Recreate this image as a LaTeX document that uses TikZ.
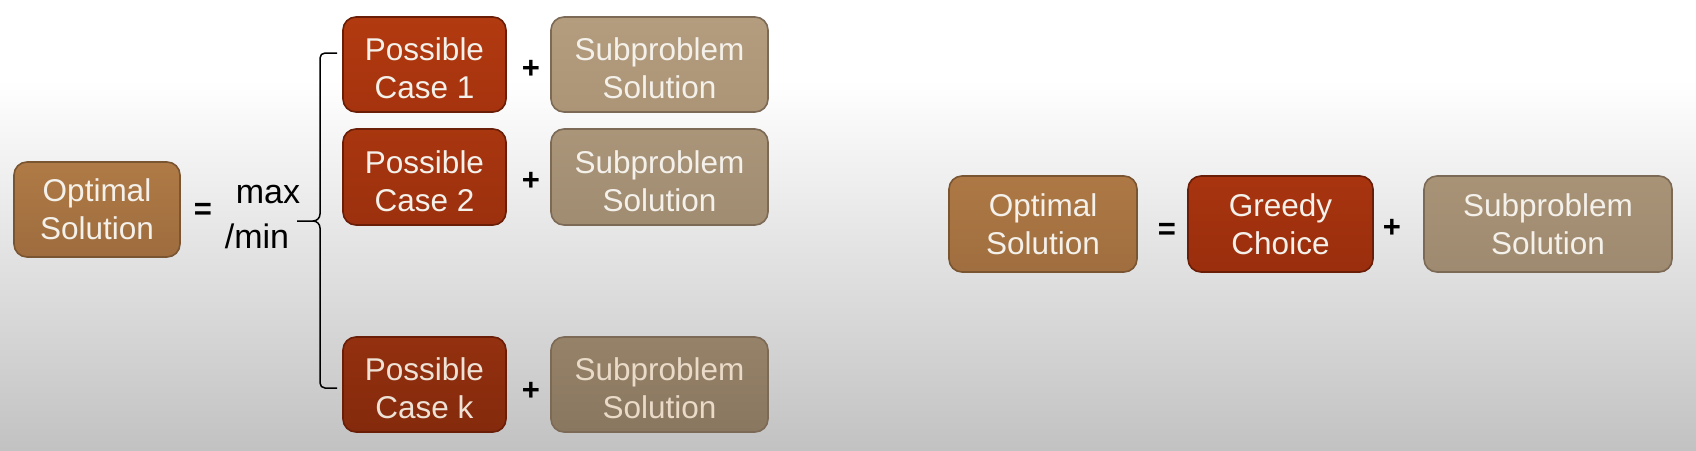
\documentclass[tikz,border=0pt]{standalone}
\usepackage{fontspec}
\setmainfont{Liberation Sans}
\definecolor{opttop}{HTML}{AF7A45}
\definecolor{optbot}{HTML}{9E6C3E}
\definecolor{opt2top}{HTML}{AD7844}
\definecolor{opt2bot}{HTML}{A06E3F}
\definecolor{optborder}{HTML}{7A5532}
\definecolor{caseborder}{HTML}{6A1E08}
\definecolor{subborder}{HTML}{7C6A56}
\definecolor{case1top}{HTML}{B23A10}
\definecolor{case1bot}{HTML}{A5330E}
\definecolor{case2top}{HTML}{A8360F}
\definecolor{case2bot}{HTML}{9C300E}
\definecolor{casektop}{HTML}{93300F}
\definecolor{casekbot}{HTML}{842A0C}
\definecolor{grtop}{HTML}{A8340F}
\definecolor{grbot}{HTML}{9A2E0D}
\definecolor{s1top}{HTML}{B49D7F}
\definecolor{s1bot}{HTML}{AC9576}
\definecolor{s2top}{HTML}{AA9579}
\definecolor{s2bot}{HTML}{A08C71}
\definecolor{sktop}{HTML}{958268}
\definecolor{skbot}{HTML}{8A7760}
\definecolor{s3top}{HTML}{A99377}
\definecolor{s3bot}{HTML}{9E8A70}
\definecolor{bggray}{HTML}{C2C2C2}
\definecolor{boxtext}{HTML}{F4F0EA}
\newcommand\tstr{\rule{0pt}{31pt}}
\begin{document}
\begin{tikzpicture}[x=1pt,y=-1pt,
  box/.style={draw, line width=1.6pt, rounded corners=13pt, inner sep=0pt, align=center,
    font=\fontsize{31.5}{38}\selectfont, text=boxtext},
  optbox/.style={box, top color=opttop, bottom color=optbot, draw=optborder},
  casebox/.style={box, draw=caseborder},
  subbox/.style={box, draw=subborder},
  sym/.style={inner sep=0pt, font=\fontsize{31}{37}\selectfont\bfseries, text=black},
  mm/.style={inner sep=0pt, font=\fontsize{34}{40}\selectfont, text=black},
  brace/.style={line width=1.5pt, black, line join=round}
]
\useasboundingbox (0,0) rectangle (1696,450);
\fill[white] (0,0) rectangle (1696,82);
\shade[top color=white, bottom color=bggray] (0,80) rectangle (1696,450);

% left equation
\node[optbox, minimum width=166pt, minimum height=95pt] (opt) at (97,209.5) {Optimal\\Solution};
\node[sym] (eq) at (203,211) {=};
\node[mm] (mx) at (268,195) {max};
\node[mm] (mn) at (257,236) {/min};

\node[casebox, top color=case1top, bottom color=case1bot, minimum width=163pt, minimum height=95pt] (c1) at (424.5,64.5) {\tstr Possible\\Case 1};
\node[casebox, top color=case2top, bottom color=case2bot, minimum width=163pt, minimum height=96pt] (c2) at (424.5,177) {\tstr Possible\\Case 2};
\node[casebox, top color=casektop, bottom color=casekbot, minimum width=163pt, minimum height=95pt, text=boxtext!88!brown] (ck) at (424.5,384.5) {\tstr Possible\\Case k};

\node[sym] (p1) at (531,69) {+};
\node[sym] (p2) at (531,181) {+};
\node[sym] (pk) at (531,391) {+};

\node[subbox, top color=s1top, bottom color=s1bot, minimum width=217pt, minimum height=95pt] (s1) at (659.5,64.5) {\tstr Subproblem\\Solution};
\node[subbox, top color=s2top, bottom color=s2bot, minimum width=217pt, minimum height=96pt] (s2) at (659.5,177) {\tstr Subproblem\\Solution};
\node[subbox, top color=sktop, bottom color=skbot, minimum width=217pt, minimum height=95pt, text=boxtext!80!brown] (sk) at (659.5,384.5) {\tstr Subproblem\\Solution};

% brace
\coordinate (bt) at (337,53);
\coordinate (bm) at (297,221);
\coordinate (bb) at (337,388);
\draw[brace] (bt) -- (325,53) to[out=180,in=90] (320,58) -- (320,214) to[out=270,in=0] (313,221) -- (bm);
\draw[brace] (313,221) to[out=0,in=90] (320,228) -- (320,383) to[out=270,in=180] (325,388) -- (bb);

% right equation
\node[optbox, top color=opt2top, bottom color=opt2bot, minimum width=188pt, minimum height=96pt] (opt2) at (1043,224) {Optimal\\Solution};
\node[sym] (eq2) at (1167,231) {=};
\node[casebox, top color=grtop, bottom color=grbot, minimum width=185pt, minimum height=96pt] (gr) at (1280.5,224) {Greedy\\Choice};
\node[sym] (p3) at (1392,228) {+};
\node[subbox, top color=s3top, bottom color=s3bot, minimum width=248pt, minimum height=96pt] (s3) at (1548,224) {Subproblem\\Solution};
\end{tikzpicture}
\end{document}
